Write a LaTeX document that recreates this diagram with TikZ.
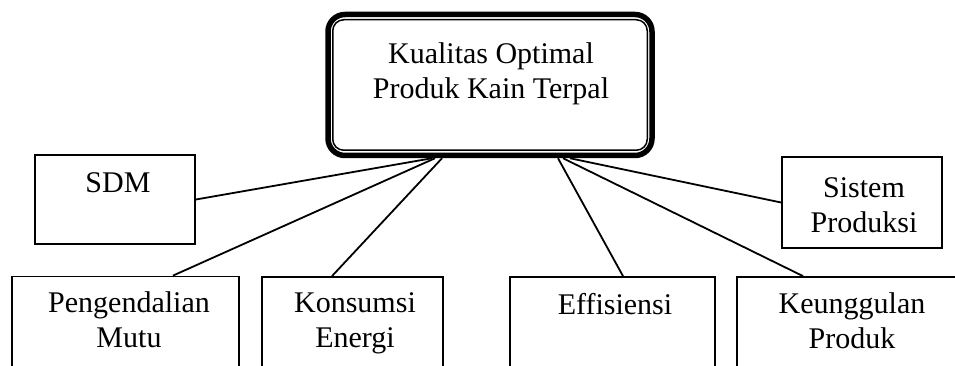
\documentclass[tikz,border=0pt]{standalone}
\usepackage{fontspec}
\setmainfont{Liberation Serif}
\begin{document}
\begin{tikzpicture}[x=1pt,y=-1pt,
  box/.style={draw, line width=1.8pt, inner sep=0pt},
  mainbox/.style={draw, line width=5.5pt, rounded corners=17pt, inner sep=0pt,
    minimum width=324pt, minimum height=141pt},
  txt/.style={font=\fontsize{30}{35}\selectfont, align=center, anchor=base, inner sep=0pt},
  link/.style={line width=1.8pt}]
\useasboundingbox (0,0) rectangle (955,366);
\clip (0,0) rectangle (955,366);

% central goal box with a thick outer frame and a thin inner frame
\node[mainbox] (top) at (490,85) {};
\draw[line width=1.5pt, rounded corners=11pt]
  ([shift={(7.5pt,-8pt)}]top.north west) rectangle ([shift={(-7.5pt,8pt)}]top.south east);
% multi-line labels are placed by the baseline of their last line
\node[txt] (toptext) at (491,99) {Kualitas Optimal\\Produk Kain Terpal};

% upper side boxes
\node[box, minimum width=160pt, minimum height=89pt] (sdm) at (115,199.5) {};
\node[txt] (sdmtext) at (118,193) {SDM};
\node[box, minimum width=160pt, minimum height=91pt] (sys) at (862,202.5) {};
\node[txt] (systext) at (864,232) {Sistem\\Produksi};

% lower boxes, running past the bottom edge
\node[box, minimum width=227pt, minimum height=123pt] (peng) at (125.5,338) {};
\node[txt] (pengtext) at (129,347) {Pengendalian\\Mutu};
\node[box, minimum width=181pt, minimum height=123pt] (kons) at (352.5,338.5) {};
\node[txt] (konstext) at (355,347) {Konsumsi\\Energi};
\node[box, minimum width=205pt, minimum height=123pt] (eff) at (612.5,338.5) {};
\node[txt] (efftext) at (615,314) {Effisiensi};
\node[box, minimum width=233pt, minimum height=123pt] (keun) at (853.5,338.5) {};
\node[txt] (keuntext) at (852,348) {Keunggulan\\Produk};

% connectors to the central box
\draw[link] (sdm.east) -- ([xshift=-58pt]top.south);
\draw[link] ([xshift=47.5pt]peng.north) -- ([xshift=-55pt]top.south);
\draw[link] ([xshift=-20.5pt]kons.north) -- ([xshift=-48pt]top.south);
\draw[link] ([xshift=10.5pt]eff.north) -- ([xshift=68pt]top.south);
\draw[link] ([xshift=-50.5pt]keun.north) -- ([xshift=73pt]top.south);
\draw[link] (sys.west) -- ([xshift=80pt]top.south);
\end{tikzpicture}
\end{document}
